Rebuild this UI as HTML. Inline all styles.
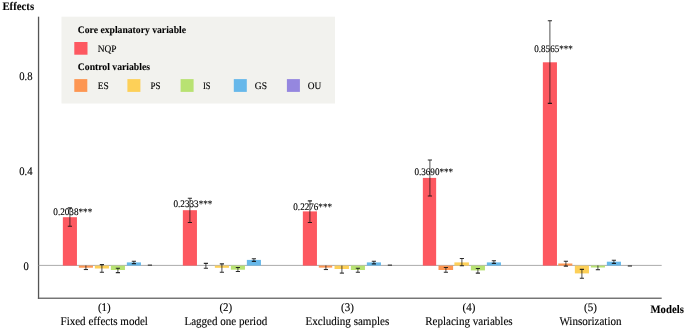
<!DOCTYPE html>
<html><head><meta charset="utf-8"><style>
html,body{margin:0;padding:0;background:#fff;}
text{stroke:#000;stroke-width:0.13px;}
text[font-weight=bold]{stroke-width:0.08px;}
svg{display:block;will-change:transform;text-rendering:geometricPrecision;font-family:"Liberation Serif",serif;fill:#000;}
</style></head><body>
<svg width="685" height="329" viewBox="0 0 685 329">
<rect x="61.5" y="16.7" width="273.5" height="86.8" fill="#f2f2ee"/>
<rect x="37.9" y="16.7" width="1.3" height="282.2" fill="#555"/>
<rect x="37.9" y="297.6" width="623.8" height="1.25" fill="#5e5e5e"/>
<rect x="38.5" y="264.9" width="623.2" height="0.9" fill="#a2a2a2"/>
<rect x="62.85" y="217.20" width="14.1" height="48.40" fill="#fd5860"/>
<rect x="78.85" y="265.60" width="14.1" height="2.10" fill="#fd9652"/>
<rect x="94.85" y="265.60" width="14.1" height="2.90" fill="#fdd058"/>
<rect x="110.85" y="265.60" width="14.1" height="4.40" fill="#b8e272"/>
<rect x="126.85" y="262.40" width="14.1" height="3.20" fill="#67b8ea"/>
<rect x="182.85" y="210.20" width="14.1" height="55.40" fill="#fd5860"/>
<rect x="214.85" y="265.60" width="14.1" height="2.20" fill="#fdd058"/>
<rect x="230.85" y="265.60" width="14.1" height="4.10" fill="#b8e272"/>
<rect x="246.85" y="259.90" width="14.1" height="5.70" fill="#67b8ea"/>
<rect x="302.85" y="211.40" width="14.1" height="54.20" fill="#fd5860"/>
<rect x="318.80" y="265.60" width="13.4" height="2.00" fill="#fd9652"/>
<rect x="334.55" y="265.60" width="14.4" height="3.40" fill="#fdd058"/>
<rect x="350.85" y="265.60" width="14.1" height="4.40" fill="#b8e272"/>
<rect x="366.85" y="262.40" width="14.1" height="3.20" fill="#67b8ea"/>
<rect x="422.85" y="177.90" width="13.3" height="87.70" fill="#fd5860"/>
<rect x="438.50" y="265.60" width="14.6" height="4.40" fill="#fd9652"/>
<rect x="454.40" y="262.40" width="14.5" height="3.20" fill="#fdd058"/>
<rect x="470.85" y="265.60" width="14.1" height="4.80" fill="#b8e272"/>
<rect x="486.85" y="262.40" width="14.1" height="3.20" fill="#67b8ea"/>
<rect x="542.85" y="62.30" width="14.1" height="203.30" fill="#fd5860"/>
<rect x="558.25" y="263.50" width="14.1" height="2.10" fill="#fd9652"/>
<rect x="574.85" y="265.60" width="14.1" height="7.80" fill="#fdd058"/>
<rect x="590.85" y="265.60" width="14.1" height="1.90" fill="#b8e272"/>
<rect x="606.85" y="261.70" width="14.1" height="3.90" fill="#67b8ea"/>
<path d="M69.9 207.90V226.20" stroke="#111" stroke-width="0.8" stroke-opacity="0.9" fill="none"/>
<path d="M67.8 207.90h4.2M67.8 226.20h4.2" stroke="#111" stroke-width="1.1" stroke-opacity="0.88" fill="none"/>
<path d="M85.9 265.50V269.50" stroke="#111" stroke-width="0.8" stroke-opacity="0.9" fill="none"/>
<path d="M83.8 269.50h4.2" stroke="#111" stroke-width="1.1" stroke-opacity="0.88" fill="none"/>
<path d="M101.9 264.60V272.30" stroke="#111" stroke-width="0.8" stroke-opacity="0.9" fill="none"/>
<path d="M99.8 264.60h4.2M99.8 272.30h4.2" stroke="#111" stroke-width="1.1" stroke-opacity="0.88" fill="none"/>
<path d="M117.9 268.20V272.60" stroke="#111" stroke-width="0.8" stroke-opacity="0.9" fill="none"/>
<path d="M115.8 268.20h4.2M115.8 272.60h4.2" stroke="#111" stroke-width="1.1" stroke-opacity="0.88" fill="none"/>
<path d="M133.9 261.20V263.60" stroke="#111" stroke-width="0.8" stroke-opacity="0.9" fill="none"/>
<path d="M131.8 261.20h4.2M131.8 263.60h4.2" stroke="#111" stroke-width="1.1" stroke-opacity="0.88" fill="none"/>
<path d="M147.8 265.10h4.2" stroke="#111" stroke-width="1.1" stroke-opacity="0.88" fill="none"/>
<path d="M189.9 198.20V222.50" stroke="#111" stroke-width="0.8" stroke-opacity="0.9" fill="none"/>
<path d="M187.8 198.20h4.2M187.8 222.50h4.2" stroke="#111" stroke-width="1.1" stroke-opacity="0.88" fill="none"/>
<path d="M205.9 263.40V268.20" stroke="#111" stroke-width="0.8" stroke-opacity="0.9" fill="none"/>
<path d="M203.8 263.40h4.2M203.8 268.20h4.2" stroke="#111" stroke-width="1.1" stroke-opacity="0.88" fill="none"/>
<path d="M221.9 263.90V272.20" stroke="#111" stroke-width="0.8" stroke-opacity="0.9" fill="none"/>
<path d="M219.8 263.90h4.2M219.8 272.20h4.2" stroke="#111" stroke-width="1.1" stroke-opacity="0.88" fill="none"/>
<path d="M237.9 267.50V271.50" stroke="#111" stroke-width="0.8" stroke-opacity="0.9" fill="none"/>
<path d="M235.8 267.50h4.2M235.8 271.50h4.2" stroke="#111" stroke-width="1.1" stroke-opacity="0.88" fill="none"/>
<path d="M253.9 258.80V261.40" stroke="#111" stroke-width="0.8" stroke-opacity="0.9" fill="none"/>
<path d="M251.8 258.80h4.2M251.8 261.40h4.2" stroke="#111" stroke-width="1.1" stroke-opacity="0.88" fill="none"/>
<path d="M309.9 200.90V222.50" stroke="#111" stroke-width="0.8" stroke-opacity="0.9" fill="none"/>
<path d="M307.8 200.90h4.2M307.8 222.50h4.2" stroke="#111" stroke-width="1.1" stroke-opacity="0.88" fill="none"/>
<path d="M325.9 265.50V269.50" stroke="#111" stroke-width="0.8" stroke-opacity="0.9" fill="none"/>
<path d="M323.8 269.50h4.2" stroke="#111" stroke-width="1.1" stroke-opacity="0.88" fill="none"/>
<path d="M341.9 265.50V273.10" stroke="#111" stroke-width="0.8" stroke-opacity="0.9" fill="none"/>
<path d="M339.8 273.10h4.2" stroke="#111" stroke-width="1.1" stroke-opacity="0.88" fill="none"/>
<path d="M357.9 268.20V272.30" stroke="#111" stroke-width="0.8" stroke-opacity="0.9" fill="none"/>
<path d="M355.8 268.20h4.2M355.8 272.30h4.2" stroke="#111" stroke-width="1.1" stroke-opacity="0.88" fill="none"/>
<path d="M373.9 261.20V263.90" stroke="#111" stroke-width="0.8" stroke-opacity="0.9" fill="none"/>
<path d="M371.8 261.20h4.2M371.8 263.90h4.2" stroke="#111" stroke-width="1.1" stroke-opacity="0.88" fill="none"/>
<path d="M387.8 265.10h4.2" stroke="#111" stroke-width="1.1" stroke-opacity="0.88" fill="none"/>
<path d="M429.9 160.00V196.00" stroke="#111" stroke-width="0.8" stroke-opacity="0.9" fill="none"/>
<path d="M427.8 160.00h4.2M427.8 196.00h4.2" stroke="#111" stroke-width="1.1" stroke-opacity="0.88" fill="none"/>
<path d="M445.9 267.50V272.30" stroke="#111" stroke-width="0.8" stroke-opacity="0.9" fill="none"/>
<path d="M443.8 267.50h4.2M443.8 272.30h4.2" stroke="#111" stroke-width="1.1" stroke-opacity="0.88" fill="none"/>
<path d="M461.9 258.50V265.80" stroke="#111" stroke-width="0.8" stroke-opacity="0.9" fill="none"/>
<path d="M459.8 258.50h4.2M459.8 265.80h4.2" stroke="#111" stroke-width="1.1" stroke-opacity="0.88" fill="none"/>
<path d="M477.9 268.50V273.10" stroke="#111" stroke-width="0.8" stroke-opacity="0.9" fill="none"/>
<path d="M475.8 268.50h4.2M475.8 273.10h4.2" stroke="#111" stroke-width="1.1" stroke-opacity="0.88" fill="none"/>
<path d="M493.9 260.70V263.40" stroke="#111" stroke-width="0.8" stroke-opacity="0.9" fill="none"/>
<path d="M491.8 260.70h4.2M491.8 263.40h4.2" stroke="#111" stroke-width="1.1" stroke-opacity="0.88" fill="none"/>
<path d="M549.9 20.70V103.40" stroke="#111" stroke-width="0.8" stroke-opacity="0.9" fill="none"/>
<path d="M547.8 20.70h4.2M547.8 103.40h4.2" stroke="#111" stroke-width="1.1" stroke-opacity="0.88" fill="none"/>
<path d="M565.9 261.20V266.10" stroke="#111" stroke-width="0.8" stroke-opacity="0.9" fill="none"/>
<path d="M563.8 261.20h4.2M563.8 266.10h4.2" stroke="#111" stroke-width="1.1" stroke-opacity="0.88" fill="none"/>
<path d="M581.9 269.40V278.20" stroke="#111" stroke-width="0.8" stroke-opacity="0.9" fill="none"/>
<path d="M579.8 269.40h4.2M579.8 278.20h4.2" stroke="#111" stroke-width="1.1" stroke-opacity="0.88" fill="none"/>
<path d="M597.9 265.50V269.70" stroke="#111" stroke-width="0.8" stroke-opacity="0.9" fill="none"/>
<path d="M595.8 269.70h4.2" stroke="#111" stroke-width="1.1" stroke-opacity="0.88" fill="none"/>
<path d="M613.9 260.20V263.40" stroke="#111" stroke-width="0.8" stroke-opacity="0.9" fill="none"/>
<path d="M611.8 260.20h4.2M611.8 263.40h4.2" stroke="#111" stroke-width="1.1" stroke-opacity="0.88" fill="none"/>
<path d="M627.8 266.00h4.2" stroke="#111" stroke-width="1.1" stroke-opacity="0.88" fill="none"/>
<text x="53.3" y="215.4" font-size="10" font-weight="normal" textLength="39.0" lengthAdjust="spacingAndGlyphs">0.2038***</text>
<text x="173.5" y="206.9" font-size="10" font-weight="normal" textLength="38.9" lengthAdjust="spacingAndGlyphs">0.2333***</text>
<text x="293.3" y="209.7" font-size="10" font-weight="normal" textLength="38.7" lengthAdjust="spacingAndGlyphs">0.2276***</text>
<text x="414.4" y="174.5" font-size="10" font-weight="normal" textLength="38.7" lengthAdjust="spacingAndGlyphs">0.3690***</text>
<text x="534.3" y="51.5" font-size="10" font-weight="normal" textLength="38.5" lengthAdjust="spacingAndGlyphs">0.8565***</text>
<text x="2.4" y="9.5" font-size="11.5" font-weight="bold" textLength="31.7" lengthAdjust="spacingAndGlyphs">Effects</text>
<text x="650.5" y="313.2" font-size="11.5" font-weight="bold" textLength="33.3" lengthAdjust="spacingAndGlyphs">Models</text>
<text x="77.8" y="32.8" font-size="10" font-weight="bold" textLength="108.2" lengthAdjust="spacingAndGlyphs">Core explanatory variable</text>
<text x="77.8" y="70.3" font-size="10" font-weight="bold" textLength="72.2" lengthAdjust="spacingAndGlyphs">Control variables</text>
<text x="97.8" y="51.7" font-size="10" font-weight="normal" textLength="18.8" lengthAdjust="spacingAndGlyphs">NQP</text>
<text x="97.8" y="88.7" font-size="10" font-weight="normal" textLength="11.0" lengthAdjust="spacingAndGlyphs">ES</text>
<text x="150.5" y="88.7" font-size="10" font-weight="normal" textLength="10.1" lengthAdjust="spacingAndGlyphs">PS</text>
<text x="203.0" y="88.7" font-size="10" font-weight="normal" textLength="7.6" lengthAdjust="spacingAndGlyphs">IS</text>
<text x="254.8" y="88.7" font-size="10" font-weight="normal" textLength="12.2" lengthAdjust="spacingAndGlyphs">GS</text>
<text x="307.7" y="88.7" font-size="10" font-weight="normal" textLength="13.5" lengthAdjust="spacingAndGlyphs">OU</text>
<rect x="74.3" y="42" width="13.2" height="12.7" fill="#fd5860"/>
<rect x="74.3" y="79.1" width="13" height="12.8" fill="#fd9652"/>
<rect x="127.4" y="79.1" width="13" height="12.8" fill="#fdd058"/>
<rect x="180.6" y="79.1" width="13" height="12.8" fill="#b8e272"/>
<rect x="233.8" y="79.1" width="13" height="12.8" fill="#67b8ea"/>
<rect x="286.9" y="79.1" width="13" height="12.8" fill="#9587df"/>
<text x="19.3" y="79.8" font-size="11.7" font-weight="normal" textLength="13.3" lengthAdjust="spacingAndGlyphs">0.8</text>
<text x="19.3" y="174.8" font-size="11.7" font-weight="normal" textLength="13.3" lengthAdjust="spacingAndGlyphs">0.4</text>
<text x="23.6" y="270.0" font-size="11.7" font-weight="normal" textLength="5.3" lengthAdjust="spacingAndGlyphs">0</text>
<text x="60.5" y="324.7" font-size="11.9" font-weight="normal" textLength="87.4" lengthAdjust="spacingAndGlyphs">Fixed effects model</text>
<text x="97.9" y="311.0" font-size="11.6" font-weight="normal" textLength="12.8" lengthAdjust="spacingAndGlyphs">(1)</text>
<text x="184.4" y="324.7" font-size="11.9" font-weight="normal" textLength="82.8" lengthAdjust="spacingAndGlyphs">Lagged one period</text>
<text x="219.4" y="311.0" font-size="11.6" font-weight="normal" textLength="12.8" lengthAdjust="spacingAndGlyphs">(2)</text>
<text x="305.5" y="324.7" font-size="11.9" font-weight="normal" textLength="83.7" lengthAdjust="spacingAndGlyphs">Excluding samples</text>
<text x="341.0" y="311.0" font-size="11.6" font-weight="normal" textLength="12.8" lengthAdjust="spacingAndGlyphs">(3)</text>
<text x="425.2" y="324.7" font-size="11.9" font-weight="normal" textLength="87.4" lengthAdjust="spacingAndGlyphs">Replacing variables</text>
<text x="462.6" y="311.0" font-size="11.6" font-weight="normal" textLength="12.8" lengthAdjust="spacingAndGlyphs">(4)</text>
<text x="559.4" y="324.7" font-size="11.9" font-weight="normal" textLength="62.1" lengthAdjust="spacingAndGlyphs">Winsorization</text>
<text x="584.1" y="311.0" font-size="11.6" font-weight="normal" textLength="12.8" lengthAdjust="spacingAndGlyphs">(5)</text>
</svg>
</body></html>
